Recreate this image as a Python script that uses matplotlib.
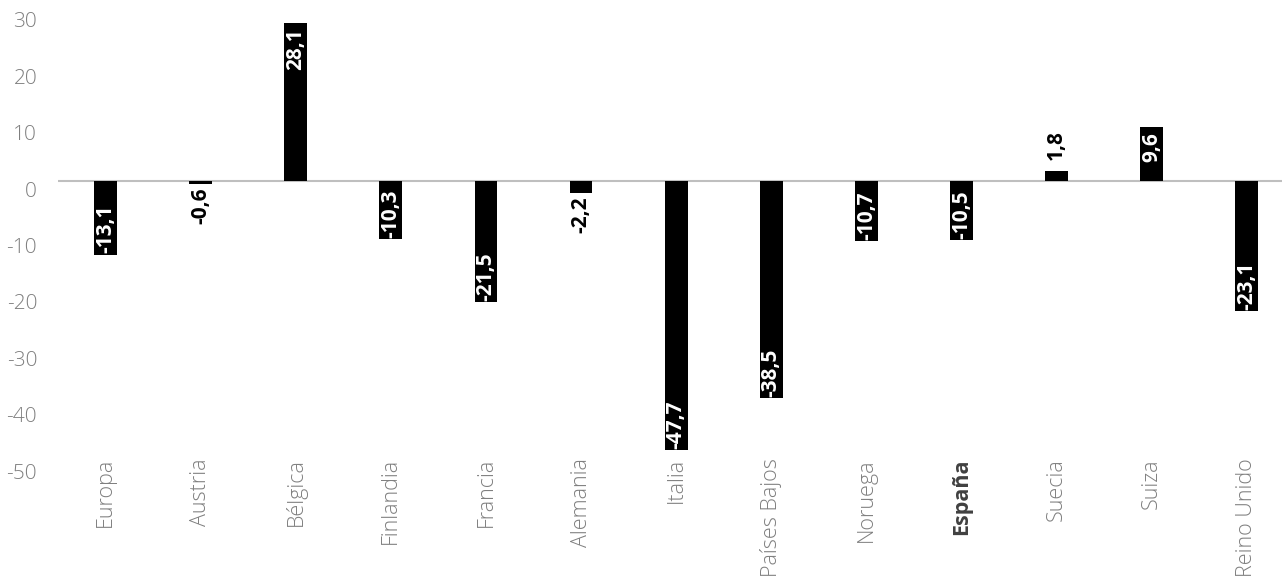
import matplotlib
matplotlib.use('Agg')
import matplotlib.pyplot as plt
from matplotlib.transforms import ScaledTranslation

categories = ['Europa', 'Austria', 'Bélgica', 'Finlandia', 'Francia', 'Alemania', 'Italia',
              'Países Bajos', 'Noruega', 'España', 'Suecia', 'Suiza', 'Reino Unido']
values = [-13.1, -0.6, 28.1, -10.3, -21.5, -2.2, -47.7, -38.5, -10.7, -10.5, 1.8, 9.6, -23.1]
yticks = [30, 20, 10, 0, -10, -20, -30, -40, -50]
highlight = 'España'

plt.rcParams['font.family'] = ['Open Sans', 'DejaVu Sans']

fig = plt.figure(figsize=(12.82, 5.8), dpi=100)
ax = fig.add_axes([58 / 1282, 1 - 463 / 580, 1 - 58 / 1282, (463 - 11.8) / 580])

x = list(range(len(categories)))
ax.bar(x, values, width=0.24, color='black', zorder=3)
ax.axhline(0, color='#bfbfbf', lw=1.5, zorder=2)

ax.set_xlim(-0.5, 12.37)
ax.set_ylim(-50, 30)
ax.set_yticks(yticks)
ax.set_yticklabels([str(t) for t in yticks])
ax.set_xticks(x)
ax.set_xticklabels(categories, rotation=90)

for s in ax.spines.values():
    s.set_visible(False)
ax.tick_params(axis='both', length=0)
ax.tick_params(axis='y', pad=15, labelsize=15, labelcolor='#7f7f7f')
ax.tick_params(axis='x', pad=-3.5, labelsize=15.5, labelcolor='#7f7f7f')

down = ScaledTranslation(0, -8 / 100, fig.dpi_scale_trans)
for lab in ax.get_yticklabels():
    lab.set_fontweight('light')
    lab.set_transform(lab.get_transform() + down)
for lab in ax.get_xticklabels():
    lab.set_va('top')
    if lab.get_text() == highlight:
        lab.set_fontweight('bold')
        lab.set_color('#404040')
    else:
        lab.set_fontweight('light')

lbl = dict(rotation=90, ha='center', fontsize=15, fontweight='bold', zorder=4,
           textcoords='offset points')
for xi, v in zip(x, values):
    txt = f'{v:.1f}'.replace('.', ',')
    if abs(v) < 3:
        # small bars: label outside, black
        if v < 0:
            ax.annotate(txt, (xi, v), xytext=(0, -2), va='top', color='black', **lbl)
        else:
            ax.annotate(txt, (xi, v), xytext=(0, 8), va='bottom', color='black', **lbl)
    else:
        if v < 0:
            ax.annotate(txt, (xi, v), xytext=(0, 1), va='bottom', color='white', **lbl)
        else:
            ax.annotate(txt, (xi, v), xytext=(0, -4), va='top', color='white', **lbl)

fig.savefig('out.png', dpi=100)
